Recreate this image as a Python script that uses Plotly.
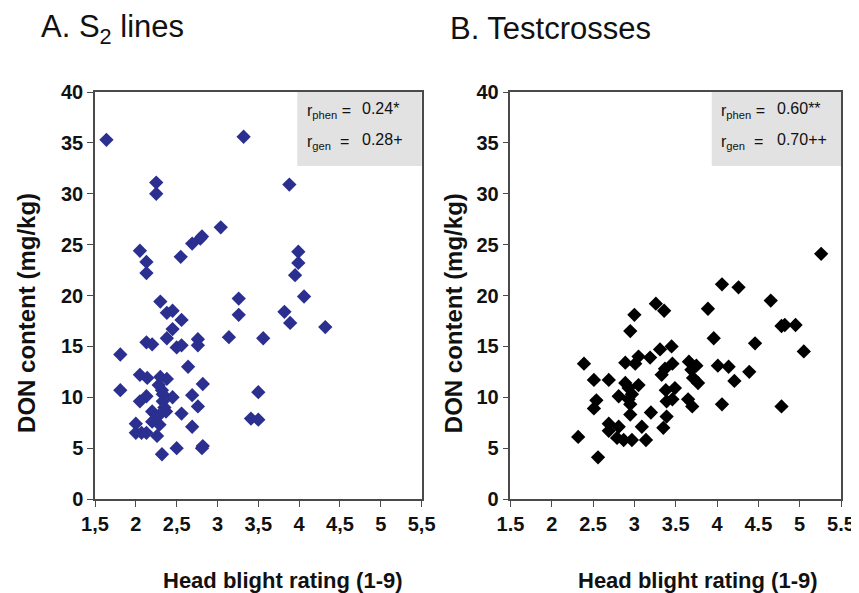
import plotly.graph_objects as go

# ---- Data ----
s2_rating = [1.64, 3.32, 2.25, 2.25, 3.04, 2.81, 2.79, 2.69, 2.55, 2.05, 2.13, 2.13,
             3.26, 2.30, 2.38, 2.45, 2.56, 3.26, 3.14, 3.56, 2.45, 2.38, 2.13, 2.20,
             2.50, 2.56, 2.76, 2.76, 1.81, 2.64, 2.05, 2.14, 2.38, 2.28, 2.82, 1.81,
             2.32, 2.13, 2.05, 2.45, 2.33, 2.69, 2.76, 2.37, 2.20, 2.56, 2.20, 2.29,
             2.00, 2.00, 2.07, 2.13, 2.26, 2.69, 2.50, 2.32, 2.82, 2.81, 3.41, 3.50,
             3.50, 3.88, 3.99, 3.99, 3.95, 4.06, 3.82, 3.89, 4.32, 2.33, 2.35, 2.30,
             2.28]
s2_don = [35.3, 35.6, 31.1, 30.0, 26.7, 25.8, 25.6, 25.1, 23.8, 24.4, 23.3, 22.2,
          19.7, 19.4, 18.3, 18.5, 17.6, 18.1, 15.9, 15.8, 16.7, 15.8, 15.4, 15.2,
          14.9, 15.1, 15.7, 15.1, 14.2, 13.0, 12.2, 11.9, 11.8, 11.2, 11.3, 10.7,
          10.7, 10.1, 9.6, 10.0, 9.6, 10.2, 9.1, 8.6, 8.6, 8.4, 7.6, 7.3,
          7.4, 6.5, 6.5, 6.5, 6.2, 7.1, 5.0, 4.4, 5.2, 5.0, 7.9, 7.8,
          10.5, 30.9, 24.3, 23.2, 22.0, 19.9, 18.4, 17.3, 16.9, 10.3, 9.0, 12.0,
          8.2]

tc_rating = [3.26, 3.36, 3.00, 2.95, 3.31, 3.45, 2.39, 2.89, 3.01, 3.05, 3.19, 3.46,
             3.33, 2.51, 2.69, 2.89, 2.93, 3.05, 3.38, 3.49, 2.81, 2.54, 2.51, 2.95,
             3.39, 3.46, 2.95, 3.20, 3.39, 3.09, 3.35, 2.69, 2.81, 2.69, 2.79, 2.87,
             2.97, 3.14, 2.32, 2.56, 5.26, 4.06, 4.26, 4.65, 3.89, 4.78, 4.82, 4.95,
             3.96, 4.46, 5.05, 4.01, 4.14, 3.66, 3.75, 4.39, 4.21, 3.71, 3.77, 3.37,
             3.65, 3.70, 4.06, 4.78, 3.69, 2.97, 2.93]
tc_don = [19.2, 18.5, 18.1, 16.5, 14.7, 15.0, 13.3, 13.4, 13.3, 14.0, 13.9, 13.3,
          12.2, 11.7, 11.7, 11.4, 10.9, 11.2, 10.7, 10.9, 10.1, 9.7, 8.9, 9.3,
          9.6, 9.8, 8.3, 8.5, 8.1, 7.1, 7.0, 7.4, 7.1, 6.7, 6.0, 5.8,
          5.8, 5.8, 6.1, 4.1, 24.1, 21.1, 20.8, 19.5, 18.7, 17.0, 17.1, 17.1,
          15.8, 15.3, 14.5, 13.1, 13.0, 13.5, 13.1, 12.5, 11.6, 11.9, 11.4, 12.8,
          9.8, 9.1, 9.3, 9.1, 12.7, 10.3, 9.8]

x_ticks = [1.5, 2, 2.5, 3, 3.5, 4, 4.5, 5, 5.5]
x_labels_a = ["1,5", "2", "2,5", "3", "3,5", "4", "4,5", "5", "5,5"]
x_labels_b = ["1.5", "2", "2.5", "3", "3.5", "4", "4.5", "5", "5.5"]
y_ticks = [0, 5, 10, 15, 20, 25, 30, 35, 40]
y_labels = ["0", "5", "10", "15", "20", "25", "30", "35", "40"]

titles = ["A. S<sub>2</sub> lines", "B. Testcrosses"]
corr_a = ["0.24*", "0.28+"]
corr_b = ["0.60**", "0.70++"]

# ---- Layout geometry ----
W, H = 859, 593
ML, MR, MT, MB = 87, 16, 84, 102
PW = W - ML - MR
PH = H - MT - MB


def px(x):
    return (x - ML) / PW


def py(y):
    return 1 - (y - MT) / PH


def bold(labels):
    return ["<b>%s</b>" % s for s in labels]


domA = [px(87), px(418)]
domB = [px(508), px(843)]

FONT = "Liberation Sans, Arial, sans-serif"
AXC = "#4a4a4a"
TXT = "#111111"

fig = go.Figure()
fig.add_trace(go.Scatter(x=s2_rating, y=s2_don, mode="markers", xaxis="x", yaxis="y",
                         marker=dict(symbol="diamond", size=11, color="#2b2f8f"),
                         showlegend=False))
fig.add_trace(go.Scatter(x=tc_rating, y=tc_don, mode="markers", xaxis="x2", yaxis="y2",
                         marker=dict(symbol="diamond", size=11, color="#000000"),
                         showlegend=False))

tickfont = dict(family=FONT, size=20, color=TXT)
xcommon = dict(range=[1.5, 5.5], tickvals=x_ticks, showgrid=False, zeroline=False,
               showline=True, linecolor=AXC, linewidth=1.5, mirror=True,
               ticks="outside", ticklen=6, tickcolor=AXC, tickfont=tickfont)
ycommon = dict(range=[0, 40], tickvals=y_ticks, ticktext=bold(y_labels),
               showgrid=False, zeroline=False,
               showline=True, linecolor=AXC, linewidth=1.5, mirror=True,
               ticks="outside", ticklen=6, tickcolor=AXC, tickfont=tickfont)

fig.update_layout(
    width=W, height=H,
    margin=dict(l=ML, r=MR, t=MT, b=MB),
    paper_bgcolor="white", plot_bgcolor="white",
    font=dict(family=FONT, color=TXT),
    xaxis=dict(domain=domA, anchor="y", ticktext=bold(x_labels_a), **xcommon),
    yaxis=dict(domain=[0, 1], anchor="x", **ycommon),
    xaxis2=dict(domain=domB, anchor="y2", ticktext=bold(x_labels_b), **xcommon),
    yaxis2=dict(domain=[0, 1], anchor="x2", **ycommon),
)

# grey correlation boxes
for (x0, x1) in [(292, 418), (712, 843)]:
    fig.add_shape(type="rect", xref="paper", yref="paper",
                  x0=px(x0), x1=px(x1), y0=py(158), y1=py(84),
                  fillcolor="#e2e2e2", line=dict(width=0), layer="below")

boxes = [(300, 356, corr_a), (719, 776, corr_b)]
for (xl, xv, vals) in boxes:
    for i, (lab, val) in enumerate(zip(["r<sub>phen</sub> =", "r<sub>gen</sub>  ="], vals)):
        yy = 104 + i * 30
        fig.add_annotation(text=lab, xref="paper", yref="paper", x=px(xl), y=py(yy),
                           xanchor="left", yanchor="middle", showarrow=False,
                           font=dict(family=FONT, size=16, color=TXT))
        fig.add_annotation(text=val, xref="paper", yref="paper", x=px(xv), y=py(yy - 3),
                           xanchor="left", yanchor="middle", showarrow=False,
                           font=dict(family=FONT, size=16, color=TXT))

# panel titles
for (t, xx) in zip(titles, [30, 445]):
    fig.add_annotation(text=t, xref="paper", yref="paper", x=px(xx), y=py(21),
                       xanchor="left", yanchor="middle", showarrow=False,
                       font=dict(family=FONT, size=31, color=TXT))

# axis titles
for xx in [17, 450]:
    fig.add_annotation(text="<b>DON content (mg/kg)</b>", xref="paper", yref="paper",
                       x=px(xx), y=py(305), textangle=-90, xanchor="center",
                       yanchor="middle", showarrow=False,
                       font=dict(family=FONT, size=24, color=TXT))
for xx in [278, 698]:
    fig.add_annotation(text="<b>Head blight rating (1-9)</b>", xref="paper", yref="paper",
                       x=px(xx), y=py(572), xanchor="center", yanchor="middle",
                       showarrow=False, font=dict(family=FONT, size=22, color=TXT))

fig.write_html("out.html")
